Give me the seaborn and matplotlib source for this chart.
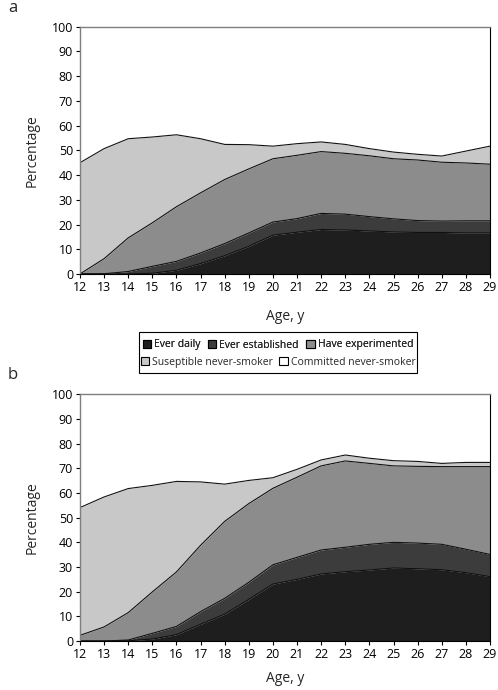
import numpy as np
import matplotlib
matplotlib.use("Agg")
from matplotlib import pyplot as plt
from matplotlib.patches import Patch, Rectangle
import seaborn as sns

ages = list(range(12, 30))

# panel a - share of each group (%)
a_daily = [0, 0, 0, 0.3, 1.5, 4.2, 7.4, 11.2, 15.7, 16.9, 18.0, 17.8, 17.4, 17.0, 16.8, 16.8, 16.6, 16.6]
a_established = [0, 0.1, 1.0, 2.8, 3.6, 4.3, 4.9, 5.4, 5.3, 5.5, 6.5, 6.4, 5.8, 5.3, 4.8, 4.6, 4.9, 4.9]
a_experimented = [0, 6.1, 13.6, 17.6, 22.1, 24.3, 25.9, 25.9, 25.6, 25.6, 25.0, 24.6, 24.6, 24.3, 24.5, 23.8, 23.4, 22.9]
a_susceptible = [45.0, 44.5, 40.1, 34.7, 29.1, 21.9, 14.2, 9.8, 5.1, 4.7, 3.9, 3.6, 2.9, 2.7, 2.3, 2.5, 4.8, 7.3]
a_committed = [55.0, 49.3, 45.3, 44.6, 43.7, 45.3, 47.6, 47.7, 48.3, 47.3, 46.6, 47.6, 49.3, 50.7, 51.6, 52.3, 50.3, 48.3]

# panel b
b_daily = [0, 0, 0.1, 0.8, 2.6, 6.8, 10.9, 16.9, 23.1, 25.0, 27.2, 28.1, 28.8, 29.6, 29.3, 28.9, 27.7, 26.1]
b_established = [0, 0, 0.3, 2.3, 3.3, 5.1, 6.4, 6.9, 7.8, 8.9, 9.7, 9.9, 10.4, 10.4, 10.4, 10.3, 9.5, 9.0]
b_experimented = [2.3, 5.7, 11.1, 16.8, 22.1, 26.9, 31.2, 31.9, 31.0, 32.5, 34.1, 35.0, 32.8, 31.0, 31.1, 31.5, 33.5, 35.6]
b_susceptible = [51.8, 52.7, 50.3, 43.2, 36.7, 25.7, 15.1, 9.4, 4.3, 3.2, 2.4, 2.4, 2.1, 2.1, 2.0, 1.3, 1.7, 1.7]
b_committed = [45.9, 41.6, 38.2, 36.9, 35.3, 35.5, 36.4, 34.9, 33.8, 30.4, 26.6, 24.6, 25.9, 26.9, 27.2, 28.0, 27.6, 27.6]

labels = ["Ever daily", "Ever established", "Have experimented",
          "Suseptible never-smoker", "Committed never-smoker"]
colors = ["#1e1e1e", "#3c3c3c", "#8c8c8c", "#c8c8c8", "#ffffff"]

sns.set_theme(style="ticks")
plt.rcParams['font.family'] = ['Open Sans', 'DejaVu Sans']

fig = plt.figure(figsize=(4.98, 6.9), dpi=100)
ax_a = fig.add_axes([0.1606, 0.6029, 0.8233, 0.3584])
ax_b = fig.add_axes([0.1606, 0.0710, 0.8233, 0.3575])


def draw(ax, layers, xpad):
    ax.stackplot(ages, layers, colors=colors, linewidth=0)
    cum = np.cumsum(np.array(layers), axis=0)
    for i in range(4):
        sns.lineplot(x=ages, y=cum[i], ax=ax, color="#111111", linewidth=0.8, legend=False)
    ax.set_xlim(12, 29)
    ax.set_ylim(0, 100)
    ax.set_xticks(ages)
    ax.set_yticks(range(0, 101, 10))
    ax.tick_params(axis="both", labelsize=9, length=3, width=0.8, pad=2, colors="black")
    ax.set_ylabel("Percentage", fontsize=10, labelpad=9)
    ax.set_xlabel("Age, y", fontsize=10, labelpad=xpad)
    for s in ["left", "top"]:
        ax.spines[s].set_color("#7f7f7f")
        ax.spines[s].set_linewidth(1)
    ax.spines["right"].set_color("black")
    ax.spines["right"].set_linewidth(0.8)
    ax.spines["bottom"].set_color("black")
    ax.spines["bottom"].set_linewidth(0.8)


draw(ax_a, [a_daily, a_established, a_experimented, a_susceptible, a_committed], 10.5)
draw(ax_b, [b_daily, b_established, b_experimented, b_susceptible, b_committed], 7.5)

fig.text(0.016, 1 - 8 / 690, "a", fontsize=12, va="center")
fig.text(0.016, 1 - 375 / 690, "b", fontsize=12, va="center")

cx = 278 / 498
handles = [Patch(facecolor=c, edgecolor="black", linewidth=0.8) for c in colors]
leg1 = fig.legend(handles[:3], labels[:3], loc="center", bbox_to_anchor=(cx, 1 - 345 / 690),
                  ncol=3, frameon=False, fontsize=7.5, handlelength=0.8, handleheight=0.8,
                  handletextpad=0.3, columnspacing=0.7, borderpad=0)
leg2 = fig.legend(handles[3:], labels[3:], loc="center", bbox_to_anchor=(cx, 1 - 362 / 690),
                  ncol=2, frameon=False, fontsize=7.5, handlelength=0.8, handleheight=0.8,
                  handletextpad=0.3, columnspacing=0.6, borderpad=0)
fig.add_artist(leg1)
fig.patches.append(Rectangle((139 / 498, 1 - 373 / 690), 278 / 498, 41 / 690,
                             transform=fig.transFigure, fill=False, edgecolor="black", linewidth=0.8))

fig.savefig("out.png", dpi=100)
